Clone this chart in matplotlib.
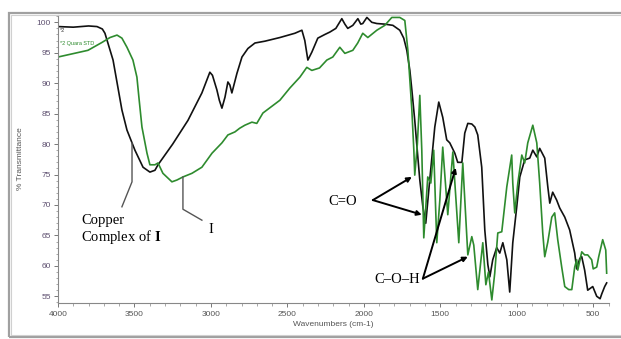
import numpy as np
import matplotlib
matplotlib.use('Agg')
from matplotlib import pyplot as plt
from matplotlib.patches import Rectangle
from matplotlib.ticker import MultipleLocator

plt.rcParams['mathtext.fontset'] = 'custom'
plt.rcParams['mathtext.rm'] = 'Liberation Serif'
plt.rcParams['mathtext.bf'] = 'Liberation Serif:bold'

# copper complex of I (black trace)
wn_cu = [4000, 3900, 3800, 3745, 3710, 3693, 3640, 3582, 3549, 3497, 3444, 3399, 3366,
         3346, 3250, 3150, 3059, 3007, 2990, 2961, 2945, 2928, 2908, 2889, 2876, 2863,
         2830, 2797, 2758, 2712, 2647, 2549, 2451, 2405, 2386, 2366, 2340, 2301, 2255,
         2222, 2183, 2144, 2124, 2105, 2072, 2039, 2020, 2007, 1980, 1948, 1915, 1863,
         1810, 1765, 1739, 1719, 1699, 1686, 1667, 1647, 1634, 1614, 1595, 1569, 1536,
         1510, 1484, 1458, 1438, 1405, 1386, 1359, 1340, 1320, 1294, 1274, 1255, 1229,
         1209, 1189, 1176, 1157, 1131, 1111, 1091, 1065, 1046, 1026, 1000, 980, 948,
         915, 895, 869, 850, 817, 797, 784, 765, 739, 719, 686, 654, 621, 608, 588,
         575, 556, 536, 503, 477, 455, 444, 425, 412]
t_cu = [99.3, 99.2, 99.4, 99.3, 98.9, 98.2, 93.8, 85.6, 82.3, 79.0, 76.2, 75.4, 75.7,
        76.6, 80.0, 83.9, 88.4, 91.8, 91.3, 88.9, 87.2, 85.9, 87.7, 90.2, 89.7, 88.4,
        91.6, 94.3, 95.7, 96.6, 96.9, 97.5, 98.2, 98.7, 97.0, 93.8, 95.1, 97.4, 98.0,
        98.4, 99.0, 100.6, 99.7, 99.0, 99.5, 100.6, 99.7, 99.8, 100.8, 100.0, 99.8, 99.7,
        99.5, 98.7, 97.4, 95.4, 92.1, 88.9, 83.9, 77.9, 74.1, 69.7, 67.0, 74.1, 82.8,
        86.9, 84.4, 80.7, 80.2, 78.5, 77.0, 77.0, 81.8, 83.4, 83.3, 82.8, 81.5, 76.2,
        65.9, 60.2, 58.2, 61.0, 63.0, 62.1, 63.8, 61.0, 55.7, 63.8, 69.7, 74.6, 77.4,
        77.7, 79.0, 77.9, 79.3, 77.7, 73.0, 70.3, 72.1, 70.8, 69.5, 68.0, 65.9, 62.1, 59.5, 61.2,
        61.5, 59.3, 56.0, 56.6, 55.0, 54.6, 55.4, 56.6, 57.2]

# ligand I (green trace)
wn_l = [4000, 3804, 3712, 3660, 3614, 3582, 3549, 3510, 3484, 3471, 3451, 3418, 3399,
        3366, 3346, 3314, 3255, 3222, 3183, 3124, 3059, 2993, 2928, 2889, 2843, 2812,
        2778, 2732, 2700, 2660, 2549, 2484, 2418, 2373, 2340, 2290, 2242, 2203, 2157,
        2124, 2072, 2040, 2007, 1974, 1915, 1863, 1817, 1765, 1732, 1712, 1686, 1673,
        1667, 1650, 1634, 1621, 1608, 1582, 1562, 1543, 1523, 1503, 1484, 1451, 1418,
        1379, 1353, 1320, 1294, 1281, 1255, 1222, 1202, 1185, 1163, 1144, 1124, 1098,
        1065, 1033, 1026, 1013, 993, 967, 948, 928, 895, 869, 850, 830, 817, 797, 771,
        752, 732, 706, 686, 660, 640, 621, 608, 601, 575, 556, 536, 510, 500, 477, 464,
        438, 418, 412]
t_l = [94.3, 95.4, 96.7, 97.5, 97.9, 97.4, 95.9, 93.8, 91.0, 87.7, 82.8, 78.5, 76.6,
       76.6, 76.9, 75.2, 73.8, 74.1, 74.6, 75.2, 76.2, 78.5, 80.2, 81.5, 82.0, 82.6,
       83.1, 83.6, 83.4, 85.1, 87.2, 89.2, 91.0, 92.6, 92.1, 92.5, 93.8, 94.3, 95.9,
       94.9, 95.4, 96.6, 98.2, 97.5, 98.7, 99.5, 100.8, 100.8, 100.3, 95.4, 85.6, 79.0,
       74.9, 80.0, 88.0, 79.0, 64.6, 74.6, 73.6, 79.0, 63.8, 70.8, 79.5, 68.4, 78.7,
       63.8, 76.9, 61.8, 64.8, 63.4, 56.1, 63.8, 56.9, 59.0, 54.4, 58.8, 65.4, 65.6,
       73.0, 78.2, 73.6, 68.7, 73.6, 78.2, 76.9, 80.2, 83.1, 80.2, 73.6, 65.4, 61.5, 63.9, 68.0,
       68.7, 64.3, 59.8, 56.6, 56.1, 56.1, 59.8, 61.0, 59.3, 62.3, 61.8, 61.8, 61.0, 59.5, 59.8, 61.5,
       64.3, 62.6, 58.8]

fig = plt.figure(figsize=(6.21, 3.39), dpi=100)
fig.patches.append(Rectangle((9 / 621, 1 - 337 / 339), 1.1, (337 - 13) / 339,
                             transform=fig.transFigure, fill=False,
                             edgecolor='#a0a0a0', lw=1.6, zorder=0))
fig.patches.append(Rectangle((11 / 621, 1 - 335 / 339), 1.1, (335 - 15) / 339,
                             transform=fig.transFigure, fill=False,
                             edgecolor='#d0d0d0', lw=0.8, zorder=0))

ax = fig.add_axes([58 / 621, 1 - 303 / 339, 550.5 / 621, (303 - 15) / 339])
ax.plot(wn_cu, t_cu, color='#111111', lw=1.2)
ax.plot(wn_l, t_l, color='#2e8b2e', lw=1.2)

ax.set_xlim(4000, 400)
ax.set_ylim(53.9, 101.2)
for s in ['top', 'right']:
    ax.spines[s].set_visible(False)
for s in ['left', 'bottom']:
    ax.spines[s].set_color('#888888')
    ax.spines[s].set_linewidth(0.8)
ax.xaxis.set_major_locator(MultipleLocator(500))
ax.xaxis.set_minor_locator(MultipleLocator(100))
ax.yaxis.set_major_locator(MultipleLocator(5))
ax.yaxis.set_minor_locator(MultipleLocator(1))
ax.set_xticks(np.arange(4000, 400, -500))
ax.set_yticks(np.arange(55, 101, 5))
ax.tick_params(axis='both', which='major', length=3, width=0.7, color='#777777',
               labelsize=6)
ax.tick_params(axis='both', which='minor', length=1.8, width=0.6, color='#999999')
ax.tick_params(axis='x', labelcolor='#555555', pad=3)
ax.tick_params(axis='y', labelcolor='#5e5070', pad=2)
for lab in ax.get_xticklabels() + ax.get_yticklabels():
    lab.set_family('Liberation Sans')

ax.set_xlabel('Wavenumbers (cm-1)', fontsize=6, color='#555555', family='Liberation Sans',
              labelpad=2)
fig.text(20 / 621, 1 - 159 / 339, '% Transmittance', rotation=90, fontsize=6,
         color='#555555', family='Liberation Sans', ha='center', va='center')

# legend-like labels
ax.text(3985, 98.6, '*2', fontsize=4, color='#333333', family='Liberation Sans', va='center')
ax.text(3985, 96.6, '*2 Quara STD', fontsize=4, color='#2e8b2e', family='Liberation Sans',
        va='center')

serif = 'Liberation Serif'
# copper complex label and pointer
ax.plot([3582, 3516, 3516], [69.7, 73.8, 80.2], color='#555555', lw=1)
ax.text(3850, 67.4, 'Copper', fontsize=10.5, family=serif, va='center', ha='left')
ax.text(3850, 64.8, r'Complex of $\mathbf{I}$', fontsize=10.5, family=serif,
        va='center', ha='left')

# ligand label and pointer
ax.plot([3059, 3183, 3183], [67.5, 69.3, 74.6], color='#555555', lw=1)
ax.text(3000, 65.9, 'I', fontsize=10.5, family=serif, va='center', ha='center')

arrow = dict(arrowstyle='-|>', color='black', lw=1.4, mutation_scale=7, shrinkA=0, shrinkB=0)
ax.text(2137, 70.5, 'C=O', fontsize=10.5, family=serif, va='center', ha='center')
ax.annotate('', xy=(1686, 74.6), xytext=(1941, 70.8), arrowprops=arrow)
ax.annotate('', xy=(1621, 68.4), xytext=(1941, 70.8), arrowprops=arrow)

ax.text(1784, 57.7, 'C–O–H', fontsize=10.5, family=serif, va='center', ha='center')
ax.annotate('', xy=(1399, 76.1), xytext=(1614, 57.9), arrowprops=arrow)
ax.annotate('', xy=(1320, 61.5), xytext=(1614, 57.9), arrowprops=arrow)

fig.savefig('out.png', dpi=100)
